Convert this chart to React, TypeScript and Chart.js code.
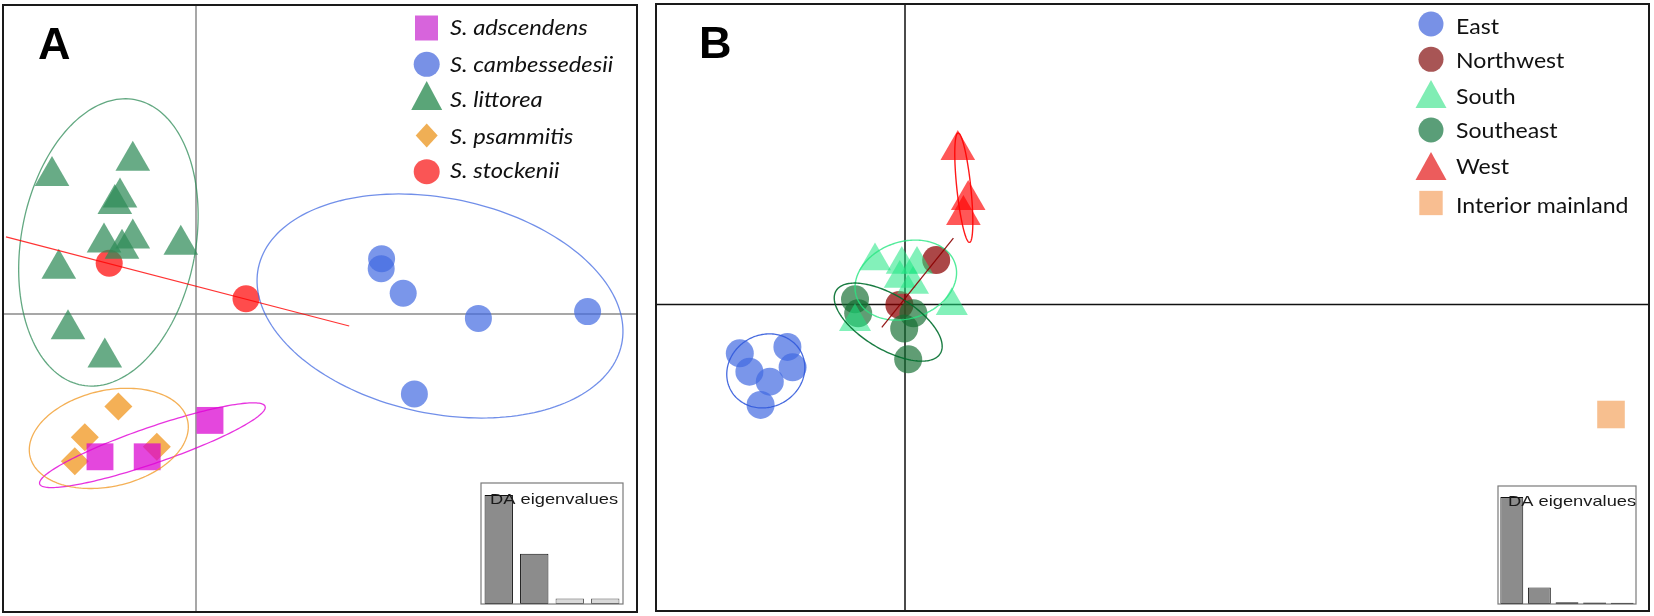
import React, { useEffect, useRef } from 'react';
import { Chart, registerables } from 'chart.js';

Chart.register(...registerables);

// ================= Panel A (species) =================
const legendA = ['S. adscendens', 'S. cambessedesii', 'S. littorea', 'S. psammitis', 'S. stockenii'];
const adscendensX = [-2.4, -1.22, 0.35];
const adscendensY = [-3.57, -3.57, -2.66];
const cambessedesiiX = [4.64, 4.63, 5.18, 7.06, 9.79, 5.46];
const cambessedesiiY = [1.38, 1.13, 0.52, -0.11, 0.06, -2.0];
const littoreaX = [-3.6, -1.58, -1.9, -2.03, -2.3, -1.58, -1.85, -0.38, -3.43, -3.2, -2.28];
const littoreaY = [3.45, 3.83, 2.91, 2.75, 1.79, 1.89, 1.63, 1.73, 1.13, -0.38, -1.09];
const psammitisX = [-1.94, -2.78, -3.03, -0.98];
const psammitisY = [-2.31, -3.08, -3.68, -3.32];
const stockeniiX = [-2.17, 1.25];
const stockeniiY = [1.27, 0.38];
// inertia ellipses: [centre x, centre y, radius 1, radius 2, angle in degrees]
const adscendensEllipse = [-1.09, -3.28, 2.98, 0.45, 19];
const cambessedesiiEllipse = [6.1, 0.2, 4.64, 2.69, -11.9];
const littoreaEllipse = [-2.19, 1.79, 2.18, 3.63, -10.5];
const psammitisEllipse = [-2.18, -3.11, 2.02, 1.2, 12.8];
const stockeniiLineX = [-4.75, 3.83];
const stockeniiLineY = [1.93, -0.3];
const eigenLabelsA = ['1', '2', '3', '4'];
const eigenA = [100, 46, 5, 5];

// ================= Panel B (regions) =================
const legendB = ['East', 'Northwest', 'South', 'Southeast', 'West', 'Interior mainland'];
const eastX = [-4.13, -3.89, -2.94, -2.81, -3.38, -3.61];
const eastY = [-1.22, -1.68, -1.06, -1.57, -1.93, -2.51];
const northwestX = [0.78, -0.14];
const northwestY = [1.11, -0.01];
const southX = [-0.75, -0.08, 0.3, -0.13, 0.2, 1.17, -1.25];
const southY = [1.09, 1.0, 1.0, 0.65, 0.5, -0.03, -0.43];
const southeastX = [-1.25, -1.17, 0.21, -0.02, 0.08];
const southeastY = [0.13, -0.22, -0.22, -0.6, -1.37];
const westX = [1.32, 1.58, 1.46];
const westY = [3.86, 2.61, 2.24];
const interiorX = [17.65];
const interiorY = [-2.75];
const eastEllipse = [-3.48, -1.66, 1.0, 0.9, 30];
const southEllipse = [0.02, 0.61, 1.3, 0.96, 18.7];
const southeastEllipse = [-0.42, -0.44, 1.52, 0.68, -31];
const westEllipse = [1.47, 2.92, 1.375, 0.175, -84];
const northwestLineX = [-0.58, 1.21];
const northwestLineY = [-0.57, 1.66];
const eigenLabelsB = ['1', '2', '3', '4', '5'];
const eigenB = [100, 15.5, 1.6, 1.4, 1.2];

const toPts = (xs: number[], ys: number[]) => xs.map((x, i) => ({ x, y: ys[i] }));

type Shape = 'circle' | 'square' | 'triangle' | 'diamond';

function drawMarker(ctx: CanvasRenderingContext2D, shape: Shape, x: number, y: number, w: number, h: number, color: string) {
  ctx.save();
  ctx.fillStyle = color;
  ctx.beginPath();
  if (shape === 'circle') ctx.ellipse(x, y, w / 2, h / 2, 0, 0, Math.PI * 2);
  else if (shape === 'square') ctx.rect(x - w / 2, y - h / 2, w, h);
  else if (shape === 'triangle') {
    ctx.moveTo(x, y - h / 2);
    ctx.lineTo(x + w / 2, y + h / 2);
    ctx.lineTo(x - w / 2, y + h / 2);
    ctx.closePath();
  } else {
    ctx.moveTo(x, y - h / 2);
    ctx.lineTo(x + w / 2, y);
    ctx.lineTo(x, y + h / 2);
    ctx.lineTo(x - w / 2, y);
    ctx.closePath();
  }
  ctx.fill();
  ctx.restore();
}

interface Outline { e?: number[]; lx?: number[]; ly?: number[]; color: string; width: number }
interface LegendItem { label: string; shape: Shape; color: string; mx: number; my: number; w: number; h: number; ty: number }

function panelPlugin(opts: {
  axisColor: string; outlines: Outline[]; letter: string; letterX: number; letterY: number;
  legend: LegendItem[]; textX: number; font: string; stretch: number;
}) {
  return {
    id: 'panelDeco',
    beforeDatasetsDraw(chart: any) {
      const { ctx, chartArea: a, scales } = chart;
      const x0 = scales.x.getPixelForValue(0);
      const y0 = scales.y.getPixelForValue(0);
      ctx.save();
      ctx.strokeStyle = opts.axisColor;
      ctx.lineWidth = 1.5;
      ctx.beginPath();
      ctx.moveTo(x0, a.top);
      ctx.lineTo(x0, a.bottom);
      ctx.moveTo(a.left, y0);
      ctx.lineTo(a.right, y0);
      ctx.stroke();
      ctx.restore();
    },
    afterDatasetsDraw(chart: any) {
      const { ctx, scales } = chart;
      const xs = scales.x, ys = scales.y;
      ctx.save();
      for (const o of opts.outlines) {
        ctx.strokeStyle = o.color;
        ctx.lineWidth = o.width;
        ctx.beginPath();
        if (o.e) {
          const [cx, cy, rx, ry, deg] = o.e;
          const ang = (deg * Math.PI) / 180;
          const n = 180;
          for (let i = 0; i <= n; i++) {
            const t = (i / n) * Math.PI * 2;
            const dx = rx * Math.cos(t) * Math.cos(ang) - ry * Math.sin(t) * Math.sin(ang);
            const dy = rx * Math.cos(t) * Math.sin(ang) + ry * Math.sin(t) * Math.cos(ang);
            const px = xs.getPixelForValue(cx + dx);
            const py = ys.getPixelForValue(cy + dy);
            if (i === 0) ctx.moveTo(px, py);
            else ctx.lineTo(px, py);
          }
        } else if (o.lx && o.ly) {
          ctx.moveTo(xs.getPixelForValue(o.lx[0]), ys.getPixelForValue(o.ly[0]));
          ctx.lineTo(xs.getPixelForValue(o.lx[1]), ys.getPixelForValue(o.ly[1]));
        }
        ctx.stroke();
      }
      ctx.restore();
    },
    afterDraw(chart: any) {
      const { ctx, chartArea: a } = chart;
      ctx.save();
      ctx.strokeStyle = '#1a1a1a';
      ctx.lineWidth = 2;
      ctx.strokeRect(a.left, a.top, a.right - a.left, a.bottom - a.top);
      ctx.fillStyle = '#000';
      ctx.font = 'bold 45px "Liberation Sans", Arial, sans-serif';
      ctx.textBaseline = 'alphabetic';
      ctx.fillText(opts.letter, opts.letterX, opts.letterY);
      ctx.font = opts.font;
      ctx.fillStyle = '#111';
      for (const it of opts.legend) {
        drawMarker(ctx, it.shape, it.mx, it.my, it.w, it.h, it.color);
        ctx.save();
        ctx.translate(opts.textX, it.ty);
        ctx.scale(opts.stretch, 1);
        ctx.fillText(it.label, 0, 0);
        ctx.restore();
      }
      ctx.restore();
    },
  };
}

function insetPlugin(textX: number, textY: number) {
  return {
    id: 'insetDeco',
    afterDraw(chart: any) {
      const { ctx, chartArea: a } = chart;
      ctx.save();
      ctx.strokeStyle = '#7a7a7a';
      ctx.lineWidth = 1.2;
      ctx.strokeRect(a.left, a.top, a.right - a.left, a.bottom - a.top);
      ctx.fillStyle = '#1a1a1a';
      ctx.font = '15px "Liberation Sans", Arial, sans-serif';
      ctx.translate(a.left + textX, a.top + textY);
      ctx.scale(1.22, 1);
      ctx.fillText('DA eigenvalues', 0, 0);
      ctx.restore();
    },
  };
}

function scatterConfig(datasets: any[], xr: number[], yr: number[], padding: any, plugin: any): any {
  return {
    type: 'scatter',
    data: { datasets },
    options: {
      responsive: false,
      animation: false,
      events: [],
      layout: { padding, autoPadding: false },
      plugins: { legend: { display: false }, tooltip: { enabled: false }, title: { display: false } },
      scales: {
        x: { type: 'linear', min: xr[0], max: xr[1], display: false },
        y: { type: 'linear', min: yr[0], max: yr[1], display: false },
      },
    },
    plugins: [plugin],
  };
}

function ds(label: string, xs: number[], ys: number[], style: string, radius: number, color: string) {
  return {
    label,
    data: toPts(xs, ys),
    pointStyle: style,
    pointRadius: radius,
    pointBackgroundColor: color,
    pointBorderWidth: 0,
    pointBorderColor: 'rgba(0,0,0,0)',
    showLine: false,
    clip: false,
  };
}

function barConfig(labels: string[], values: number[], fills: string[], borders: string[], max: number, pct: number, textX: number, textY: number): any {
  return {
    type: 'bar',
    data: {
      labels,
      datasets: [{
        data: values,
        backgroundColor: fills,
        borderColor: borders,
        borderWidth: 1,
        borderSkipped: false,
        barPercentage: pct,
        categoryPercentage: 1,
      }],
    },
    options: {
      responsive: false,
      animation: false,
      events: [],
      layout: { padding: 3, autoPadding: false },
      plugins: { legend: { display: false }, tooltip: { enabled: false } },
      scales: { x: { display: false }, y: { display: false, min: 0, max } },
    },
    plugins: [insetPlugin(textX, textY)],
  };
}

export default function App() {
  const aRef = useRef<HTMLCanvasElement>(null);
  const bRef = useRef<HTMLCanvasElement>(null);
  const iaRef = useRef<HTMLCanvasElement>(null);
  const ibRef = useRef<HTMLCanvasElement>(null);

  useEffect(() => {
    const charts: Chart[] = [];

    // ---- Panel A ----
    const cA = ['rgba(218,0,208,0.72)', 'rgba(65,105,225,0.7)', 'rgba(46,139,87,0.72)', 'rgba(240,150,30,0.75)', 'rgba(255,0,0,0.7)'];
    const lA = ['#d764dc', '#7891e6', '#5aa578', '#f0af55', '#fa5555'];
    const dsA = [
      ds(legendA[0], adscendensX, adscendensY, 'rect', 19, cA[0]),
      ds(legendA[1], cambessedesiiX, cambessedesiiY, 'circle', 13.5, cA[1]),
      ds(legendA[2], littoreaX, littoreaY, 'triangle', 20, cA[2]),
      ds(legendA[3], psammitisX, psammitisY, 'rectRot', 14, cA[3]),
      ds(legendA[4], stockeniiX, stockeniiY, 'circle', 13.5, cA[4]),
    ];
    const plugA = panelPlugin({
      axisColor: '#8a8a8a',
      outlines: [
        { e: adscendensEllipse, color: 'rgba(225,0,215,0.8)', width: 1.3 },
        { e: cambessedesiiEllipse, color: 'rgba(65,105,225,0.75)', width: 1.3 },
        { e: littoreaEllipse, color: 'rgba(46,139,87,0.75)', width: 1.3 },
        { e: psammitisEllipse, color: 'rgba(240,150,30,0.75)', width: 1.3 },
        { lx: stockeniiLineX, ly: stockeniiLineY, color: 'rgba(255,0,0,0.8)', width: 1.2 },
      ],
      letter: 'A', letterX: 38, letterY: 59,
      font: 'italic 21px Lato, "Open Sans", sans-serif',
      textX: 450,
      stretch: 1.13,
      legend: [
        { label: legendA[0], shape: 'square', color: lA[0], mx: 426.5, my: 28, w: 23, h: 25, ty: 35 },
        { label: legendA[1], shape: 'circle', color: lA[1], mx: 426.7, my: 64.3, w: 26, h: 25, ty: 71.7 },
        { label: legendA[2], shape: 'triangle', color: lA[2], mx: 426.7, my: 95.5, w: 31, h: 29, ty: 106.7 },
        { label: legendA[3], shape: 'diamond', color: lA[3], mx: 426.7, my: 135.5, w: 22, h: 24, ty: 144 },
        { label: legendA[4], shape: 'circle', color: lA[4], mx: 426.7, my: 171.7, w: 26, h: 25, ty: 178.3 },
      ],
    });
    charts.push(new Chart(aRef.current!, scatterConfig(dsA, [-4.825, 11.025], [-7.45, 7.725], { left: 3, top: 5, right: 8, bottom: 4 }, plugA)));

    // ---- Panel B ----
    const cB = ['rgba(65,105,225,0.7)', 'rgba(139,0,0,0.72)', 'rgba(30,230,130,0.55)', 'rgba(20,110,50,0.68)', 'rgba(255,0,0,0.66)', 'rgba(244,164,96,0.7)'];
    const lB = ['#7891e6', '#a85555', '#80edb4', '#5a9e78', '#ec5c5c', '#f8be91'];
    const dsB = [
      ds(legendB[0], eastX, eastY, 'circle', 14, cB[0]),
      ds(legendB[2], southX, southY, 'triangle', 18.5, cB[2]),
      ds(legendB[3], southeastX, southeastY, 'circle', 14, cB[3]),
      ds(legendB[1], northwestX, northwestY, 'circle', 14, cB[1]),
      ds(legendB[4], westX, westY, 'triangle', 20, cB[4]),
      ds(legendB[5], interiorX, interiorY, 'rect', 19.5, cB[5]),
    ];
    const plugB = panelPlugin({
      axisColor: '#111',
      outlines: [
        { e: eastEllipse, color: 'rgba(50,90,220,0.9)', width: 1.3 },
        { e: southEllipse, color: 'rgba(40,230,130,0.8)', width: 1.4 },
        { e: southeastEllipse, color: 'rgba(0,110,45,0.9)', width: 1.4 },
        { e: westEllipse, color: 'rgba(255,0,0,0.9)', width: 1.4 },
        { lx: northwestLineX, ly: northwestLineY, color: 'rgba(139,0,0,0.9)', width: 1.3 },
      ],
      letter: 'B', letterX: 54, letterY: 58,
      font: '21px Lato, "Open Sans", sans-serif',
      textX: 811,
      stretch: 1.1,
      legend: [
        { label: legendB[0], shape: 'circle', color: lB[0], mx: 786, my: 24, w: 25, h: 25, ty: 34 },
        { label: legendB[1], shape: 'circle', color: lB[1], mx: 786, my: 59.3, w: 25, h: 25, ty: 68.3 },
        { label: legendB[2], shape: 'triangle', color: lB[2], mx: 786, my: 94, w: 31, h: 28, ty: 104 },
        { label: legendB[3], shape: 'circle', color: lB[3], mx: 786, my: 130, w: 25, h: 25, ty: 138.3 },
        { label: legendB[4], shape: 'triangle', color: lB[4], mx: 786, my: 166, w: 31, h: 28, ty: 174.3 },
        { label: legendB[5], shape: 'square', color: lB[5], mx: 786, my: 203, w: 23.4, h: 24.3, ty: 212.7 },
      ],
    });
    charts.push(new Chart(bRef.current!, scatterConfig(dsB, [-6.225, 18.6], [-7.6625, 7.5125], { left: 11, top: 4, right: 5, bottom: 5 }, plugB)));

    // ---- Insets ----
    charts.push(new Chart(iaRef.current!, barConfig(eigenLabelsA, eigenA, ['#8c8c8c', '#8c8c8c', '#d9d9d9', '#d9d9d9'], ['#111', '#111', '#555', '#555'], 111, 0.8, 9, 21)));
    charts.push(new Chart(ibRef.current!, barConfig(eigenLabelsB, eigenB, ['#8c8c8c', '#8c8c8c', '#333', '#333', '#333'], ['#111', '#222', '#222', '#222', '#222'], 110.3, 0.83, 10, 19.7)));

    return () => charts.forEach((c) => c.destroy());
  }, []);

  const abs = (l: number, t: number, w: number, h: number): React.CSSProperties => ({
    position: 'absolute', left: l, top: t, width: w, height: h, display: 'block',
  });

  return (
    <div style={{ position: 'fixed', left: 0, top: 0, width: 1654, height: 616, background: '#fff', overflow: 'hidden' }}>
      <canvas ref={aRef} width={645} height={616} style={abs(0, 0, 645, 616)} />
      <canvas ref={bRef} width={1009} height={616} style={abs(645, 0, 1009, 616)} />
      <canvas ref={iaRef} width={148} height={127} style={abs(478, 480, 148, 127)} />
      <canvas ref={ibRef} width={144} height={124} style={abs(1495, 483, 144, 124)} />
    </div>
  );
}
